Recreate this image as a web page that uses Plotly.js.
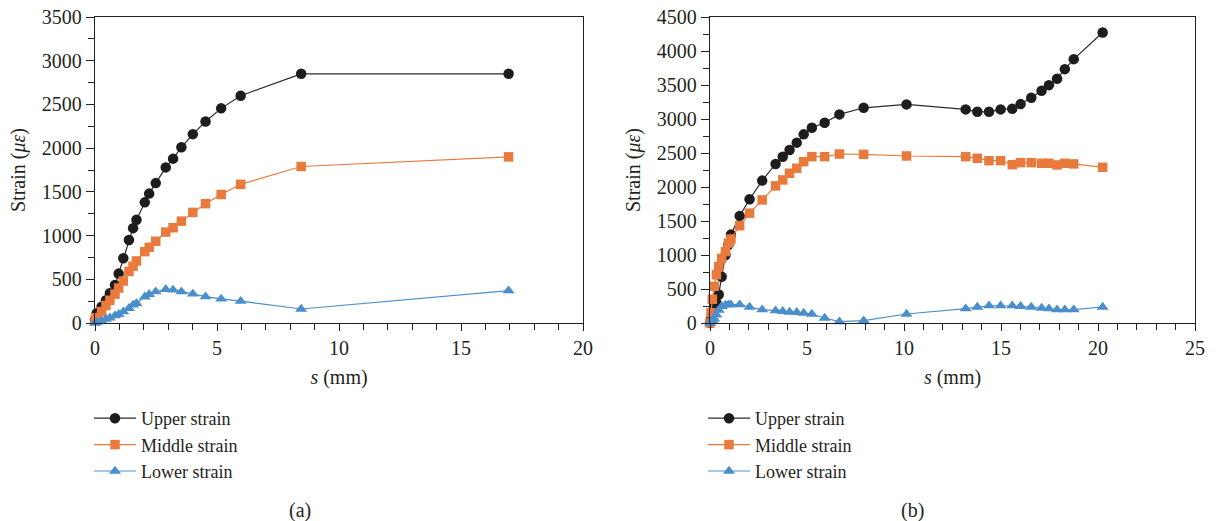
<!DOCTYPE html>
<html>
<head>
<meta charset="utf-8">
<script src="https://cdn.plot.ly/plotly-3.0.1.min.js"></script>
<style>html,body{margin:0;padding:0;background:#fff;}#chart{width:1216px;height:521px;}</style>
</head>
<body>
<div id="chart"></div>
<script>
// Panel (a)
const sA = [0, 0.07, 0.27, 0.45, 0.61, 0.82, 0.97, 1.16, 1.39, 1.56, 1.70, 2.04, 2.22, 2.49, 2.90, 3.20, 3.54, 4.01, 4.53, 5.17, 5.97, 8.45, 16.95];
const upperA = [40, 111, 187, 260, 340, 435, 565, 740, 950, 1085, 1180, 1380, 1480, 1600, 1780, 1880, 2010, 2160, 2305, 2455, 2600, 2850, 2850];
const middleA = [30, 60, 130, 200, 260, 330, 400, 480, 590, 650, 710, 816, 866, 935, 1040, 1090, 1165, 1265, 1365, 1470, 1586, 1790, 1900];
const lowerA = [0, 10, 25, 45, 60, 85, 100, 130, 168, 206, 225, 300, 328, 358, 385, 378, 358, 332, 301, 275, 250, 160, 370];

// Panel (b)
const sB = [0, 0.05, 0.12, 0.22, 0.33, 0.45, 0.6, 0.8, 0.95, 1.08, 1.53, 2.04, 2.69, 3.38, 3.75, 4.10, 4.47, 4.83, 5.25, 5.91, 6.67, 7.92, 10.13, 13.18, 13.78, 14.38, 14.98, 15.58, 16.01, 16.56, 17.09, 17.47, 17.89, 18.29, 18.75, 20.24];
const upperB = [0, 60, 130, 250, 300, 420, 680, 1000, 1150, 1300, 1575, 1820, 2094, 2339, 2446, 2544, 2652, 2774, 2872, 2945, 3068, 3165, 3215, 3141, 3106, 3106, 3141, 3151, 3219, 3312, 3415, 3498, 3591, 3733, 3880, 4272];
const middleB = [0, 150, 350, 540, 710, 830, 950, 1050, 1175, 1235, 1430, 1615, 1810, 2016, 2104, 2202, 2275, 2372, 2446, 2446, 2485, 2480, 2456, 2446, 2422, 2387, 2387, 2328, 2358, 2358, 2349, 2349, 2324, 2349, 2340, 2290];
const lowerB = [0, 20, 40, 60, 120, 190, 245, 265, 270, 270, 269, 235, 196, 181, 171, 161, 157, 147, 132, 73, 20, 34, 132, 210, 235, 254, 254, 254, 245, 235, 220, 210, 196, 196, 196, 235];

const seriesNames = ['Upper strain', 'Middle strain', 'Lower strain'];
const panelLabels = ['(a)', '(b)'];
const xTitle = '<i>s</i> (mm)';
const yTitle = 'Strain (<i>με</i>)';

const colors = ['#1e1c1d', '#E97A3D', '#4A8FCB'];
const lineColors = ['#2b2b2b', '#E97A3D', '#4A8FCB'];
const symbols = ['circle', 'square', 'triangle-up'];
const sizes = [10.5, 9.5, 10.5];
const FONT = 'Liberation Serif, Times New Roman, serif';
const TXT = '#231f20';

function mk(x, y, i, xa, ya, leg) {
  return {
    type: 'scatter', mode: 'lines+markers', x: x, y: y, name: seriesNames[i],
    xaxis: xa, yaxis: ya, legend: leg, cliponaxis: false,
    line: {color: lineColors[i], width: 1.2},
    marker: {symbol: symbols[i], color: colors[i], size: sizes[i], line: {width: 0}}
  };
}

const data = [
  mk(sA, upperA, 0, 'x', 'y', 'legend'),
  mk(sA, middleA, 1, 'x', 'y', 'legend'),
  mk(sA, lowerA, 2, 'x', 'y', 'legend'),
  mk(sB, upperB, 0, 'x2', 'y2', 'legend2'),
  mk(sB, middleB, 1, 'x2', 'y2', 'legend2'),
  mk(sB, lowerB, 2, 'x2', 'y2', 'legend2')
];

const W = 1216, H = 521;
const yDom = [1 - 323 / H, 1 - 17 / H];

function xax(dom, maxv) {
  return {
    domain: dom, range: [0, maxv], dtick: 5, tick0: 0,
    showline: true, linecolor: '#222', linewidth: 1.2, mirror: true,
    ticks: 'outside', ticklen: 7, tickcolor: '#222', tickwidth: 1,
    minor: {dtick: 1, ticks: 'outside', ticklen: 6, tickcolor: '#222', tickwidth: 1},
    showgrid: false, zeroline: false,
    tickfont: {family: FONT, size: 20, color: TXT},
    title: {text: xTitle, font: {family: FONT, size: 20, color: TXT}, standoff: 11}
  };
}
function yax(anchor, maxv) {
  return {
    domain: yDom, range: [0, maxv], dtick: 500, tick0: 0, anchor: anchor,
    showline: true, linecolor: '#222', linewidth: 1.2, mirror: true,
    ticks: 'outside', ticklen: 8, tickcolor: '#222', tickwidth: 1,
    minor: {dtick: 250, ticks: 'outside', ticklen: 6, tickcolor: '#222', tickwidth: 1},
    showgrid: false, zeroline: false,
    tickfont: {family: FONT, size: 20, color: TXT},
    title: {text: yTitle, font: {family: FONT, size: 20, color: TXT}, standoff: 10}
  };
}

const xa = xax([95 / W, 583 / W], 20); xa.anchor = 'y';
const xb = xax([710 / W, 1195 / W], 25); xb.anchor = 'y2';

const legBase = {
  xanchor: 'left', yanchor: 'top', y: 1 - 400 / H,
  font: {family: FONT, size: 18, color: TXT},
  bgcolor: 'rgba(0,0,0,0)', borderwidth: 0, itemwidth: 42, tracegroupgap: 0
};

const layout = {
  width: W, height: H,
  margin: {l: 0, r: 0, t: 0, b: 0},
  paper_bgcolor: '#fff', plot_bgcolor: '#fff',
  showlegend: true,
  xaxis: xa, yaxis: yax('x', 3500),
  xaxis2: xb, yaxis2: yax('x2', 4500),
  legend: Object.assign({}, legBase, {x: 89 / W}),
  legend2: Object.assign({}, legBase, {x: 703 / W}),
  annotations: [
    {text: panelLabels[0], xref: 'paper', yref: 'paper', x: 300 / W, y: 1 - 510 / H, showarrow: false,
     xanchor: 'center', yanchor: 'middle', font: {family: FONT, size: 20, color: TXT}},
    {text: panelLabels[1], xref: 'paper', yref: 'paper', x: 912 / W, y: 1 - 510 / H, showarrow: false,
     xanchor: 'center', yanchor: 'middle', font: {family: FONT, size: 20, color: TXT}}
  ]
};

Plotly.newPlot('chart', data, layout, {staticPlot: true, displayModeBar: false});
</script>
</body>
</html>
